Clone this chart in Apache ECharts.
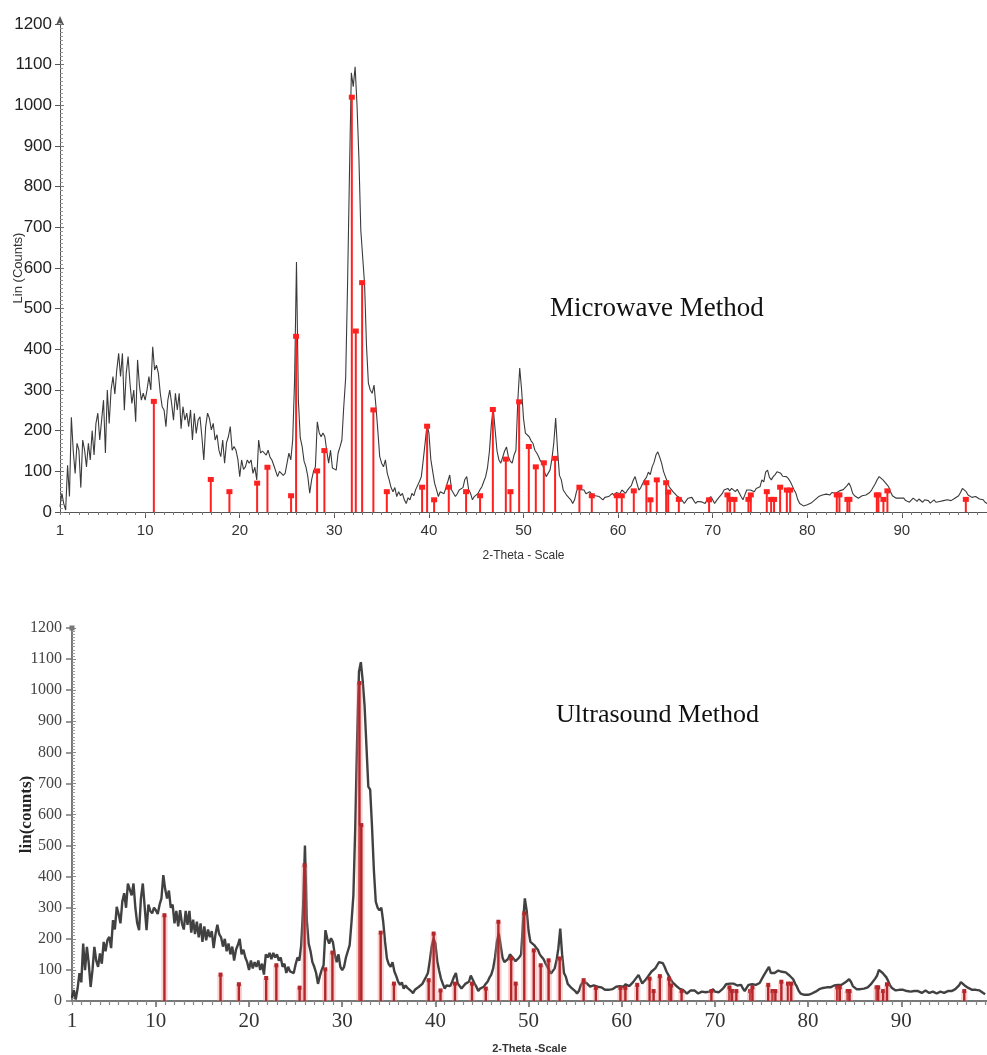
<!DOCTYPE html>
<html>
<head>
<meta charset="utf-8">
<script src="https://cdn.jsdelivr.net/npm/echarts@6/dist/echarts.min.js"></script>
<style>
html,body{margin:0;padding:0;background:#fff;}
#chart{width:987px;height:1055px;}
</style>
</head>
<body>
<div id="chart"></div>
<script>
// ---- scan definition: each row holds one degree, 5 readings 0.2 deg apart
const twoThetaStart = 1;
const twoThetaStep = 0.2;

// ---- x tick labels
const xTickLabels = [1, 10, 20, 30, 40, 50, 60, 70, 80, 90];
const xMajorTicks = [10, 20, 30, 40, 50, 60, 70, 80, 90];

// ---- Microwave method counts (rows start at 1,2,3,... deg)
const microwaveCounts = [
  [13, 46, 20, 5, 115],
  [38, 233, 150, 95, 169],
  [152, 60, 177, 152, 111],
  [169, 128, 200, 140, 218],
  [243, 177, 226, 275, 145],
  [300, 218, 300, 333, 290],
  [349, 390, 333, 390, 250],
  [341, 382, 316, 267, 300],
  [222, 374, 310, 275, 292],
  [275, 300, 333, 300, 406],
  [349, 361, 341, 292, 259],
  [251, 210, 275, 300, 267],
  [226, 292, 251, 292, 205],
  [259, 226, 243, 210, 251],
  [177, 243, 193, 226, 234],
  [185, 128, 210, 243, 230],
  [202, 218, 177, 190, 152],
  [136, 177, 120, 170, 185],
  [210, 152, 161, 152, 130],
  [87, 128, 105, 111, 128],
  [120, 128, 95, 110, 79],
  [177, 145, 150, 152, 140],
  [152, 135, 128, 115, 111],
  [87, 100, 103, 90, 95],
  [120, 145, 128, 177, 325],
  [615, 275, 182, 161, 125],
  [111, 87, 46, 79, 100],
  [111, 222, 195, 185, 194],
  [185, 150, 120, 152, 108],
  [110, 103, 145, 160, 177],
  [260, 330, 560, 830, 1080],
  [1046, 1095, 1000, 870, 693],
  [689, 560, 410, 317, 300],
  [292, 312, 260, 200, 136],
  [120, 111, 128, 95, 79],
  [60, 50, 60, 38, 50],
  [40, 46, 30, 21, 35],
  [30, 46, 40, 55, 54],
  [75, 87, 128, 170, 215],
  [194, 130, 100, 71, 55],
  [38, 50, 54, 45, 60],
  [75, 91, 54, 50, 38],
  [45, 54, 50, 60, 80],
  [87, 55, 46, 30, 38],
  [40, 46, 55, 62, 75],
  [87, 110, 150, 215, 255],
  [202, 150, 128, 120, 135],
  [150, 160, 136, 125, 120],
  [140, 152, 275, 354, 300],
  [230, 194, 190, 185, 175],
  [169, 152, 145, 136, 125],
  [120, 100, 87, 90, 103],
  [130, 169, 231, 152, 90],
  [79, 54, 50, 40, 38],
  [30, 21, 30, 50, 62],
  [55, 58, 54, 45, 46],
  [50, 44, 46, 40, 42],
  [38, 34, 30, 36, 32],
  [38, 42, 46, 40, 48],
  [50, 45, 54, 52, 46],
  [54, 60, 65, 78, 87],
  [70, 54, 60, 70, 79],
  [85, 98, 92, 111, 122],
  [140, 148, 135, 120, 100],
  [87, 75, 62, 60, 50],
  [46, 40, 44, 34, 30],
  [21, 28, 34, 30, 36],
  [28, 21, 26, 30, 25],
  [28, 21, 30, 34, 38],
  [30, 21, 28, 34, 38],
  [45, 54, 50, 58, 52],
  [58, 54, 50, 56, 54],
  [38, 30, 42, 54, 50],
  [54, 52, 50, 58, 56],
  [62, 79, 74, 98, 103],
  [85, 79, 87, 92, 99],
  [96, 95, 88, 92, 87],
  [82, 75, 71, 55, 46],
  [30, 21, 18, 15, 13],
  [18, 17, 22, 25, 30],
  [34, 38, 36, 42, 46],
  [44, 40, 42, 48, 50],
  [46, 50, 52, 50, 55],
  [58, 65, 71, 62, 46],
  [40, 36, 34, 38, 40],
  [38, 42, 42, 48, 54],
  [58, 70, 80, 87, 84],
  [79, 75, 68, 62, 50],
  [40, 38, 34, 30, 34],
  [32, 34, 28, 30, 24],
  [28, 34, 30, 26, 32],
  [28, 24, 30, 34, 28],
  [22, 26, 30, 24, 20],
  [26, 30, 28, 24, 30],
  [32, 28, 30, 34, 36],
  [40, 48, 58, 56, 50],
  [42, 40, 36, 34, 38],
  [34, 32, 34, 30, 24],
  [21]
];

// ---- Ultrasound method counts (rows start at 1,2,3,... deg)
const ultrasoundCounts = [
  [10, 35, 5, 40, 90],
  [60, 185, 99, 174, 120],
  [45, 100, 174, 130, 110],
  [153, 120, 190, 160, 196],
  [206, 170, 260, 230, 303],
  [280, 250, 320, 347, 300],
  [378, 378, 340, 378, 300],
  [250, 228, 330, 378, 379],
  [228, 310, 290, 282, 300],
  [292, 280, 310, 330, 405],
  [360, 330, 355, 300, 310],
  [250, 290, 240, 292, 250],
  [230, 290, 245, 290, 220],
  [262, 215, 255, 205, 250],
  [190, 240, 195, 230, 205],
  [225, 170, 215, 245, 215],
  [205, 175, 200, 160, 185],
  [150, 175, 130, 165, 180],
  [200, 150, 165, 140, 125],
  [100, 130, 105, 125, 110],
  [130, 100, 120, 85, 150],
  [140, 155, 135, 155, 140],
  [150, 130, 140, 110, 120],
  [90, 110, 95, 100, 90],
  [118, 140, 130, 180, 300],
  [500, 260, 185, 160, 125],
  [110, 90, 55, 80, 100],
  [115, 228, 200, 185, 202],
  [190, 150, 125, 150, 110],
  [99, 110, 140, 160, 180],
  [255, 340, 560, 840, 1060],
  [1090, 1030, 950, 820, 690],
  [680, 560, 420, 320, 300],
  [292, 300, 255, 190, 136],
  [118, 110, 125, 95, 80],
  [62, 52, 60, 40, 50],
  [42, 45, 32, 25, 36],
  [32, 45, 42, 55, 56],
  [78, 90, 130, 175, 201],
  [185, 128, 98, 72, 55],
  [40, 50, 55, 48, 62],
  [78, 90, 56, 50, 40],
  [46, 55, 52, 62, 82],
  [86, 56, 46, 32, 40],
  [42, 46, 55, 62, 75],
  [85, 105, 140, 190, 217],
  [180, 140, 125, 122, 135],
  [150, 155, 136, 128, 125],
  [140, 150, 250, 330, 290],
  [225, 190, 188, 180, 172],
  [165, 150, 142, 135, 122],
  [118, 100, 88, 92, 105],
  [130, 170, 233, 150, 90],
  [78, 55, 50, 42, 38],
  [32, 24, 32, 50, 60],
  [56, 58, 52, 46, 48],
  [50, 45, 46, 42, 44],
  [40, 36, 32, 36, 34],
  [38, 42, 46, 42, 48],
  [50, 46, 54, 52, 48],
  [54, 60, 64, 76, 84],
  [70, 56, 62, 70, 78],
  [84, 95, 92, 105, 115],
  [125, 131, 122, 110, 95],
  [84, 72, 62, 58, 50],
  [46, 40, 42, 35, 30],
  [24, 28, 34, 30, 34],
  [28, 24, 26, 30, 26],
  [28, 24, 30, 34, 38],
  [30, 24, 28, 34, 38],
  [45, 54, 50, 56, 52],
  [56, 54, 50, 54, 52],
  [40, 32, 42, 52, 50],
  [54, 52, 52, 58, 58],
  [64, 80, 78, 100, 110],
  [90, 84, 90, 94, 98],
  [96, 94, 90, 92, 88],
  [82, 76, 70, 56, 46],
  [32, 24, 22, 20, 18],
  [20, 22, 24, 26, 30],
  [34, 38, 36, 42, 46],
  [44, 42, 44, 48, 50],
  [48, 52, 54, 52, 56],
  [60, 66, 70, 62, 48],
  [42, 38, 36, 38, 40],
  [40, 42, 44, 50, 56],
  [60, 72, 82, 100, 95],
  [90, 84, 76, 64, 50],
  [42, 38, 34, 32, 36],
  [34, 36, 30, 32, 28],
  [30, 34, 32, 28, 32],
  [30, 26, 30, 34, 30],
  [26, 28, 30, 26, 24],
  [28, 30, 30, 26, 30],
  [32, 30, 32, 34, 38],
  [42, 50, 61, 58, 50],
  [44, 42, 38, 36, 38],
  [36, 34, 34, 30, 26],
  [22]
];

// ---- reference pattern sticks [2theta, intensity]
const refPeaksMicrowave = [
  [10.92, 272], [16.94, 80], [18.91, 50], [21.84, 71], [22.93, 110], [25.43, 40],
  [25.96, 432], [28.18, 101], [28.95, 151], [31.85, 1020], [32.27, 445], [32.94, 564],
  [34.13, 251], [35.55, 50], [39.28, 61], [39.81, 211], [40.55, 30], [42.10, 61],
  [43.93, 50], [45.41, 40], [46.76, 252], [48.13, 130], [48.62, 50], [49.54, 271],
  [50.56, 161], [51.30, 111], [52.15, 121], [53.34, 132], [55.91, 61], [57.22, 40],
  [59.86, 40], [60.39, 40], [61.66, 52], [62.99, 72], [63.42, 30], [64.09, 79],
  [65.08, 72], [65.30, 49], [66.42, 31], [69.62, 30], [71.56, 42], [71.84, 31],
  [72.30, 31], [73.78, 31], [74.03, 42], [75.72, 50], [76.18, 31], [76.49, 31],
  [77.13, 61], [77.84, 54], [78.19, 54], [83.12, 42], [83.40, 42], [84.24, 31],
  [84.45, 31], [87.35, 42], [87.52, 42], [88.05, 31], [88.47, 52], [96.76, 31]
];
const refPeaksUltrasound = [
  [10.92, 276], [16.94, 85], [18.91, 54], [21.84, 74], [22.93, 115], [25.43, 43],
  [25.96, 437], [28.18, 102], [28.95, 156], [31.85, 1023], [32.05, 566],
  [34.13, 220], [35.55, 56], [39.28, 67], [39.81, 217], [40.55, 34], [42.10, 56],
  [43.93, 56], [45.41, 40], [46.76, 255], [48.13, 137], [48.62, 56], [49.54, 282],
  [50.56, 163], [51.30, 115], [52.15, 131], [53.34, 137], [55.91, 67], [57.22, 42],
  [59.86, 42], [60.39, 42], [61.66, 52], [62.99, 72], [63.42, 32], [64.09, 80],
  [65.08, 72], [65.30, 50], [66.42, 32], [69.62, 32], [71.56, 44], [71.84, 32],
  [72.30, 32], [73.78, 32], [74.03, 44], [75.72, 52], [76.18, 32], [76.49, 32],
  [77.13, 62], [77.84, 56], [78.19, 56], [83.12, 44], [83.40, 44], [84.24, 32],
  [84.45, 32], [87.35, 44], [87.52, 44], [88.05, 32], [88.47, 54], [96.76, 32]
];

// ---- build [2theta, counts] pairs
function toPairs(rows) {
  const out = [];
  rows.forEach((row, r) => row.forEach((v, k) => {
    out.push([+(twoThetaStart + r + k * twoThetaStep).toFixed(2), v]);
  }));
  return out;
}

function stickRenderer(color, width, markW, markH, halo) {
  return function (params, api) {
    const x = api.value(0), h = api.value(1);
    const base = api.coord([x, 0]);
    const top = api.coord([x, h]);
    const children = [];
    if (halo) {
      children.push({type: 'line', shape: {x1: base[0], y1: base[1], x2: top[0], y2: top[1]},
        style: {stroke: halo, lineWidth: width + 4, opacity: 0.35}});
    }
    children.push({type: 'line', shape: {x1: base[0], y1: base[1], x2: top[0], y2: top[1]},
      style: {stroke: color, lineWidth: width}});
    children.push({type: 'rect', shape: {x: top[0] - markW / 2, y: top[1] - markH / 2, width: markW, height: markH},
      style: {fill: color}});
    return {type: 'group', children: children};
  };
}

const plainNumber = v => String(v);
const sansFont = '"Liberation Sans", Arial, sans-serif';
const serifFont = '"Liberation Serif", "DejaVu Serif", serif';

const chart = echarts.init(document.getElementById('chart'), null, {renderer: 'canvas'});

const option = {
  animation: false,
  backgroundColor: '#ffffff',
  grid: [
    {left: 60, top: 24, width: 927, height: 488, containLabel: false, outerBoundsMode: 'none'},
    {left: 72, top: 628, width: 915, height: 373, containLabel: false, outerBoundsMode: 'none'}
  ],
  xAxis: [
    {
      gridIndex: 0, type: 'value', min: 1, max: 99, position: 'bottom',
      axisLine: {lineStyle: {color: '#555', width: 1}},
      axisTick: {customValues: xMajorTicks, length: 6, lineStyle: {color: '#555'}},
      axisLabel: {customValues: xTickLabels, formatter: plainNumber, fontFamily: sansFont, fontSize: 15, color: '#333', margin: 11},
      splitLine: {show: false},
      name: '2-Theta - Scale', nameLocation: 'middle', nameGap: 38, nameMoveOverlap: false,
      nameTextStyle: {fontFamily: sansFont, fontSize: 12, color: '#333'}
    },
    {
      gridIndex: 0, type: 'value', min: 1, max: 99, interval: 1, position: 'bottom',
      axisLine: {show: false},
      axisTick: {length: 3, lineStyle: {color: '#777'}},
      axisLabel: {show: false}, splitLine: {show: false}
    },
    {
      gridIndex: 1, type: 'value', min: 1, max: 99.2, position: 'bottom',
      axisLine: {lineStyle: {color: '#777', width: 2}},
      axisTick: {customValues: xMajorTicks, length: 6, lineStyle: {color: '#666', width: 1.5}},
      axisLabel: {customValues: xTickLabels, formatter: plainNumber, fontFamily: serifFont, fontSize: 21, color: '#333', margin: 10},
      splitLine: {show: false},
      name: '2-Theta -Scale', nameLocation: 'middle', nameGap: 42, nameMoveOverlap: false,
      nameTextStyle: {fontFamily: sansFont, fontSize: 11, fontWeight: 'bold', color: '#333'}
    },
    {
      gridIndex: 1, type: 'value', min: 1, max: 99.2, interval: 1, position: 'bottom',
      axisLine: {show: false},
      axisTick: {length: 4, lineStyle: {color: '#888', width: 1.2}},
      axisLabel: {show: false}, splitLine: {show: false}
    }
  ],
  yAxis: [
    {
      gridIndex: 0, type: 'value', min: 0, max: 1200, interval: 100, position: 'left',
      axisLine: {show: true, symbol: ['none', 'arrow'], symbolSize: [6, 9], symbolOffset: [0, 8],
        lineStyle: {color: '#555', width: 1}},
      axisTick: {show: true, length: 5, lineStyle: {color: '#555'}},
      axisLabel: {formatter: plainNumber, fontFamily: sansFont, fontSize: 17, color: '#222', margin: 8},
      splitLine: {show: false},
      name: 'Lin (Counts)', nameLocation: 'middle', nameGap: 35, nameMoveOverlap: false,
      nameTextStyle: {fontFamily: sansFont, fontSize: 13, color: '#333'}
    },
    {
      gridIndex: 0, type: 'value', min: 0, max: 1200, interval: 100, position: 'left',
      axisLine: {show: false},
      axisTick: {show: true, inside: true, length: 4, lineStyle: {color: '#777'}},
      minorTick: {show: true, splitNumber: 10, length: 3, lineStyle: {color: '#999'}},
      axisLabel: {show: false}, splitLine: {show: false}
    },
    {
      gridIndex: 1, type: 'value', min: 0, max: 1200, interval: 100, position: 'left',
      axisLine: {show: true, symbol: ['none', 'rect'], symbolSize: [5, 5],
        lineStyle: {color: '#777', width: 2}},
      axisTick: {show: true, length: 6, lineStyle: {color: '#777', width: 1.5}},
      axisLabel: {formatter: plainNumber, fontFamily: serifFont, fontSize: 16, color: '#444', margin: 10},
      splitLine: {show: false},
      name: 'lin(counts)', nameLocation: 'middle', nameGap: 37, nameMoveOverlap: false,
      nameTextStyle: {fontFamily: serifFont, fontSize: 17, fontWeight: 'bold', color: '#222'}
    },
    {
      gridIndex: 1, type: 'value', min: 0, max: 1200, interval: 100, position: 'left',
      axisLine: {show: false},
      axisTick: {show: true, inside: true, length: 4, lineStyle: {color: '#888'}},
      minorTick: {show: true, splitNumber: 10, length: 3, lineStyle: {color: '#999'}},
      axisLabel: {show: false}, splitLine: {show: false}
    }
  ],
  series: [
    {
      type: 'line', xAxisIndex: 0, yAxisIndex: 0, data: toPairs(microwaveCounts),
      showSymbol: false, smooth: false, z: 2,
      lineStyle: {color: '#3a3a3a', width: 1.1}
    },
    {
      type: 'custom', xAxisIndex: 0, yAxisIndex: 0, data: refPeaksMicrowave, z: 3,
      renderItem: stickRenderer('#ff2020', 2, 6, 5, null)
    },
    {
      type: 'line', xAxisIndex: 2, yAxisIndex: 2, data: toPairs(ultrasoundCounts),
      showSymbol: false, smooth: false, z: 2,
      lineStyle: {color: '#2c2c2c', width: 2.4, opacity: 0.9}
    },
    {
      type: 'custom', xAxisIndex: 2, yAxisIndex: 2, data: refPeaksUltrasound, z: 3,
      renderItem: stickRenderer('#b3262a', 2.4, 4, 4, '#f08080')
    }
  ],
  graphic: [
    {type: 'text', x: 550, y: 309, style: {text: 'Microwave Method', font: '27px ' + serifFont,
      fill: '#111', textVerticalAlign: 'middle', verticalAlign: 'middle'}},
    {type: 'text', x: 556, y: 715, style: {text: 'Ultrasound Method', font: '26px ' + serifFont,
      fill: '#111', textVerticalAlign: 'middle', verticalAlign: 'middle'}}
  ]
};

chart.setOption(option);
</script>
</body>
</html>
